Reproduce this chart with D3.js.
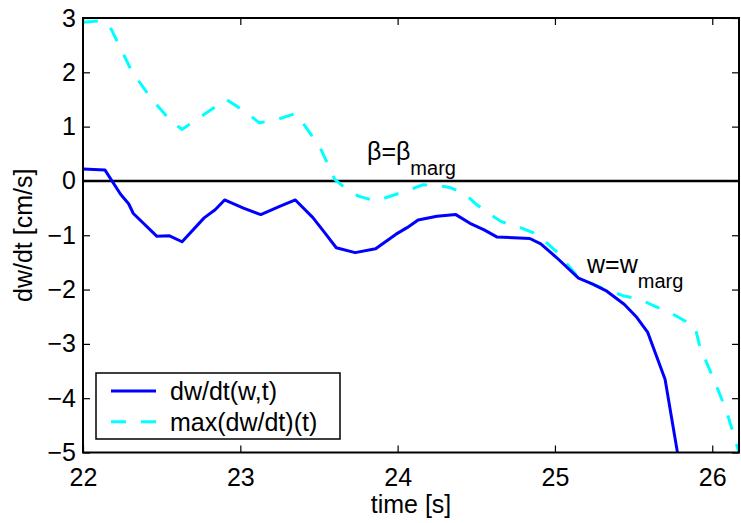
<!DOCTYPE html>
<html>
<head>
<meta charset="utf-8">
<script src="https://cdn.jsdelivr.net/npm/d3@7"></script>
<style>
  body { margin: 0; background: #fff; }
  text { font-family: "Liberation Sans", Arial, Helvetica, sans-serif; fill: #000; }
</style>
</head>
<body>
<div id="chart"></div>
<script>
// dw/dt(w,t) - solid blue
const tBlue = [22.00, 22.14, 22.24, 22.29, 22.32, 22.47, 22.55, 22.63, 22.77, 22.84, 22.90, 23.02, 23.13, 23.25, 23.35,
  23.46, 23.53, 23.61, 23.73, 23.86, 23.99, 24.06, 24.13, 24.25, 24.37, 24.46, 24.55, 24.63, 24.84, 24.91,
  25.01, 25.15, 25.24, 25.33, 25.44, 25.52, 25.59, 25.70, 25.78];
const vBlue = [0.22, 0.20, -0.25, -0.42, -0.60, -1.02, -1.01, -1.12, -0.68, -0.53, -0.35, -0.50, -0.62, -0.47, -0.35,
  -0.67, -0.93, -1.23, -1.32, -1.25, -0.98, -0.86, -0.72, -0.65, -0.62, -0.78, -0.90, -1.03, -1.06, -1.16,
  -1.41, -1.79, -1.90, -2.03, -2.27, -2.51, -2.79, -3.65, -5.02];

// max(dw/dt)(t) - dashed cyan
const tCyan = [22.00, 22.12, 22.18, 22.31, 22.43, 22.56, 22.63, 22.91, 23.04, 23.12, 23.22, 23.35, 23.39, 23.47, 23.51,
  23.60, 23.675, 23.75, 23.86, 24.06, 24.16, 24.25, 24.33, 24.42, 24.50, 24.60, 24.66, 24.78, 24.86, 24.94,
  25.01, 25.15, 25.24, 25.29, 25.44, 25.54, 25.63, 25.73, 25.81, 25.89, 25.92, 26.03, 26.09, 26.17];
const vCyan = [2.92, 2.95, 2.79, 2.02, 1.53, 1.10, 0.95, 1.50, 1.26, 1.07, 1.12, 1.24, 1.10, 0.77, 0.60,
  0.03, -0.15, -0.28, -0.37, -0.18, -0.07, -0.08, -0.12, -0.22, -0.43, -0.64, -0.75, -0.86, -0.95, -1.12,
  -1.30, -1.78, -1.90, -1.96, -2.12, -2.18, -2.30, -2.42, -2.55, -2.68, -3.04, -3.80, -4.23, -5.00];

const xTicks = [22, 23, 24, 25, 26];
const yTicks = [3, 2, 1, 0, -1, -2, -3, -4, -5];
const legendLabels = ["dw/dt(w,t)", "max(dw/dt)(t)"];

const W = 741, H = 523;
const pLeft = 83, pRight = 739, pTop = 18, pBottom = 452.5;
const fs = 25;

const svg = d3.select("#chart").append("svg")
  .attr("width", W).attr("height", H);

const x = d3.scaleLinear().domain([22, 26.17]).range([pLeft, pRight]);
const y = d3.scaleLinear().domain([-5, 3]).range([pBottom, pTop]);

svg.append("defs").append("clipPath").attr("id", "clip")
  .append("rect").attr("x", pLeft).attr("y", pTop)
  .attr("width", pRight - pLeft).attr("height", pBottom - pTop);

const minus = d => d < 0 ? "\u2212" + Math.abs(d) : String(d);

// axes with inward ticks
const gx = svg.append("g").attr("transform", `translate(0,${pBottom})`)
  .call(d3.axisBottom(x).tickValues(xTicks).tickSizeInner(-7).tickSizeOuter(0).tickPadding(16).tickFormat(d => d));
const gxTop = svg.append("g").attr("transform", `translate(0,${pTop})`)
  .call(d3.axisTop(x).tickValues(xTicks).tickSizeInner(-7).tickSizeOuter(0).tickFormat(""));
const gy = svg.append("g").attr("transform", `translate(${pLeft},0)`)
  .call(d3.axisLeft(y).tickValues(yTicks).tickSizeInner(-7).tickSizeOuter(0).tickPadding(7).tickFormat(minus));
const gyRight = svg.append("g").attr("transform", `translate(${pRight},0)`)
  .call(d3.axisRight(y).tickValues(yTicks).tickSizeInner(-7).tickSizeOuter(0).tickFormat(""));

[gx, gxTop, gy, gyRight].forEach(g => {
  g.select(".domain").remove();
  g.selectAll(".tick line").attr("stroke", "#000").attr("stroke-width", 1.2);
  g.selectAll(".tick text").attr("font-size", fs).attr("font-family", "Liberation Sans, Arial, sans-serif");
});

// zero line
svg.append("line")
  .attr("x1", pLeft).attr("x2", pRight)
  .attr("y1", y(0)).attr("y2", y(0))
  .attr("stroke", "#000").attr("stroke-width", 2.5);

const line = d3.line().x(d => x(d[0])).y(d => y(d[1]));

const plot = svg.append("g").attr("clip-path", "url(#clip)");

plot.append("path")
  .datum(d3.zip(tCyan, vCyan))
  .attr("d", line)
  .attr("fill", "none")
  .attr("stroke", "#00ffff")
  .attr("stroke-width", 3)
  .attr("stroke-dasharray", "15,15");

plot.append("path")
  .datum(d3.zip(tBlue, vBlue))
  .attr("d", line)
  .attr("fill", "none")
  .attr("stroke", "#0000ff")
  .attr("stroke-width", 3)
  .attr("stroke-linejoin", "round");

// box
svg.append("rect")
  .attr("x", pLeft).attr("y", pTop)
  .attr("width", pRight - pLeft).attr("height", pBottom - pTop)
  .attr("fill", "none").attr("stroke", "#000").attr("stroke-width", 2);

// annotations
const beta = svg.append("text").attr("x", 367).attr("y", 160).attr("font-size", fs);
beta.append("tspan").text("\u03b2=\u03b2");
beta.append("tspan").attr("dy", 15).attr("font-size", 20).text("marg");

const wm = svg.append("text").attr("x", 587).attr("y", 273).attr("font-size", fs);
wm.append("tspan").text("w=w");
wm.append("tspan").attr("dy", 15).attr("font-size", 20).text("marg");

// axis labels
svg.append("text")
  .attr("x", (pLeft + pRight) / 2).attr("y", 513)
  .attr("text-anchor", "middle").attr("font-size", fs)
  .text("time [s]");

svg.append("text")
  .attr("transform", `translate(32,${(pTop + pBottom) / 2}) rotate(-90)`)
  .attr("text-anchor", "middle").attr("font-size", fs)
  .text("dw/dt [cm/s]");

// legend
const lg = svg.append("g");
lg.append("rect")
  .attr("x", 96).attr("y", 373).attr("width", 244).attr("height", 66)
  .attr("fill", "#fff").attr("stroke", "#000").attr("stroke-width", 1.5);
const legendStyles = [
  { color: "#0000ff", dash: null },
  { color: "#00ffff", dash: "15,15" }
];
legendLabels.forEach((lab, i) => {
  const cy = 391 + i * 30.7;
  lg.append("line")
    .attr("x1", 111).attr("x2", 156).attr("y1", cy).attr("y2", cy)
    .attr("stroke", legendStyles[i].color).attr("stroke-width", 3)
    .attr("stroke-dasharray", legendStyles[i].dash);
  lg.append("text")
    .attr("x", 170).attr("y", cy + 9).attr("font-size", fs)
    .text(lab);
});
</script>
</body>
</html>
